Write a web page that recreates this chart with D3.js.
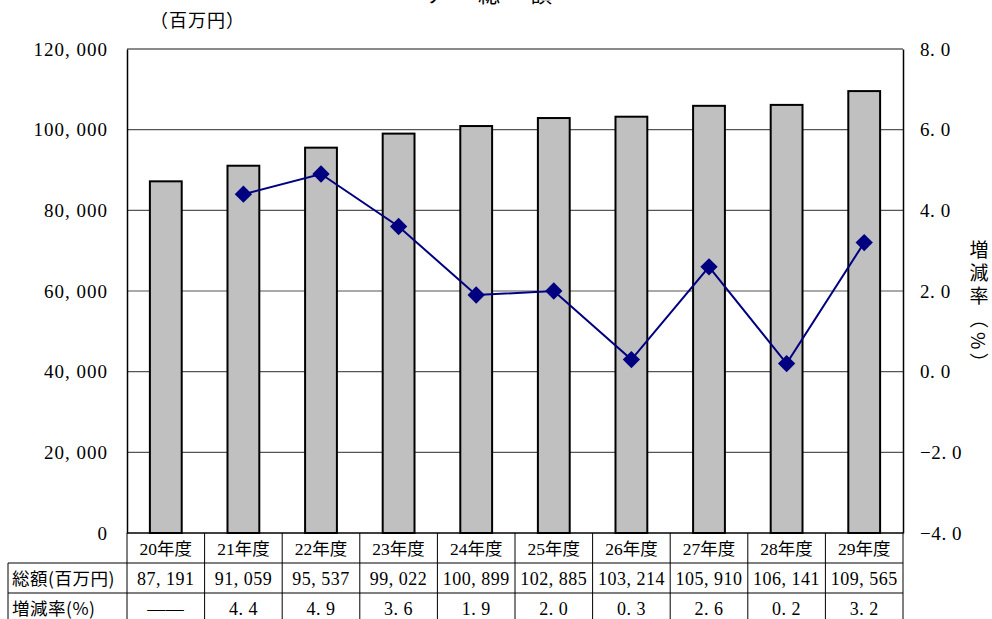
<!DOCTYPE html>
<html>
<head>
<meta charset="utf-8">
<script src="https://cdn.jsdelivr.net/npm/d3@7"></script>
<style>
  body { margin: 0; background: #fff; }
  svg text { font-family: "Liberation Serif", "Noto Sans CJK JP", serif; fill: #000; }
</style>
</head>
<body>
<div id="chart"></div>
<script>
// data
const years = ["20年度", "21年度", "22年度", "23年度", "24年度", "25年度", "26年度", "27年度", "28年度", "29年度"];
const totals = [87191, 91059, 95537, 99022, 100899, 102885, 103214, 105910, 106141, 109565];
const rates = [null, 4.4, 4.9, 3.6, 1.9, 2.0, 0.3, 2.6, 0.2, 3.2];
const leftTicks = [0, 20000, 40000, 60000, 80000, 100000, 120000];
const rightTicks = [-4, -2, 0, 2, 4, 6, 8];
const rowLabels = ["総額(百万円)", "増減率(%)"];

const W = 992, H = 619;
const plot = { left: 127, right: 903, top: 49, bottom: 533 };
const rowH = 30;
const tableLeft = 8;

const svg = d3.select("#chart").append("svg")
  .attr("width", W)
  .attr("height", H);

const x = d3.scaleBand()
  .domain(years)
  .range([plot.left, plot.right])
  .paddingInner(0.59)
  .paddingOuter(0.295);

const xCell = d3.scaleBand()
  .domain(years)
  .range([plot.left, plot.right]);

const yL = d3.scaleLinear().domain([0, 120000]).range([plot.bottom, plot.top]);
const yR = d3.scaleLinear().domain([-4, 8]).range([plot.bottom, plot.top]);

// title (cut off at top, as in the source image)
svg.append("text")
  .attr("x", 426)
  .attr("y", 2)
  .style("font-size", "22px")
  .style("letter-spacing", "4px")
  .text("ア　総　額");

svg.append("text")
  .attr("x", 150)
  .attr("y", 27)
  .style("font-size", "18px")
  .style("letter-spacing", "1px")
  .text("（百万円）");

// gridlines
svg.append("g")
  .selectAll("line")
  .data(leftTicks.filter(d => d > 0))
  .join("line")
  .attr("x1", plot.left)
  .attr("x2", plot.right)
  .attr("y1", d => yL(d))
  .attr("y2", d => yL(d))
  .attr("stroke", d => d === 120000 ? "#8a8a8a" : "#555")
  .attr("stroke-width", d => d === 120000 ? 2 : 1.2);

// left axis
const fmtL = d => d3.format(",")(d).replace(",", ", ");
const axL = svg.append("g")
  .attr("transform", `translate(${plot.left},0)`)
  .call(d3.axisLeft(yL).tickValues(leftTicks).tickSize(0).tickPadding(19).tickFormat(fmtL));
axL.select(".domain").attr("stroke", "#000").attr("stroke-width", 1.5);
axL.selectAll("text")
  .style("font-size", "19px")
  .style("letter-spacing", "1px")
  .style("font-family", "Liberation Serif, serif");

// right axis
const fmtR = d => d3.format(".1f")(d).replace(".", ". ").replace("-", "−");
const axR = svg.append("g")
  .attr("transform", `translate(${plot.right},0)`)
  .call(d3.axisRight(yR).tickValues(rightTicks).tickSize(0).tickPadding(17).tickFormat(fmtR));
axR.select(".domain").attr("stroke", "#000").attr("stroke-width", 1.5);
axR.selectAll("text")
  .style("font-size", "19px")
  .style("letter-spacing", "0.6px")
  .style("font-family", "Liberation Serif, serif");

// right axis title, vertical
svg.append("text")
  .attr("x", 979)
  .attr("y", 240)
  .style("writing-mode", "vertical-rl")
  .style("font-size", "19px")
  .style("font-family", "Noto Sans CJK JP")
  .style("letter-spacing", "4px")
  .text("増減率（%）");

// bars
svg.append("g")
  .selectAll("rect")
  .data(years)
  .join("rect")
  .attr("x", d => x(d))
  .attr("y", (d, i) => yL(totals[i]))
  .attr("width", x.bandwidth())
  .attr("height", (d, i) => yL(0) - yL(totals[i]))
  .attr("fill", "#c0c0c0")
  .attr("stroke", "#000")
  .attr("stroke-width", 2);

// line of rates
const pts = years.map((d, i) => ({ year: d, v: rates[i] })).filter(p => p.v !== null);
const line = d3.line()
  .x(p => x(p.year) + x.bandwidth() / 2)
  .y(p => yR(p.v));

svg.append("path")
  .datum(pts)
  .attr("d", line)
  .attr("fill", "none")
  .attr("stroke", "#000080")
  .attr("stroke-width", 2);

svg.append("g")
  .selectAll("path")
  .data(pts)
  .join("path")
  .attr("d", d3.symbol(d3.symbolSquare, 150))
  .attr("transform", p => `translate(${x(p.year) + x.bandwidth() / 2},${yR(p.v)}) rotate(45)`)
  .attr("fill", "#000080");

// bottom axis line
svg.append("line")
  .attr("x1", plot.left).attr("x2", plot.right)
  .attr("y1", plot.bottom).attr("y2", plot.bottom)
  .attr("stroke", "#000").attr("stroke-width", 1.5);

// data table
const tbl = svg.append("g");
const tBottom = plot.bottom + rowH * 3;

[1, 2, 3].forEach(r => {
  tbl.append("line")
    .attr("x1", tableLeft).attr("x2", plot.right)
    .attr("y1", plot.bottom + rowH * r).attr("y2", plot.bottom + rowH * r)
    .attr("stroke", "#000").attr("stroke-width", 1);
});
tbl.append("line")
  .attr("x1", tableLeft).attr("x2", tableLeft)
  .attr("y1", plot.bottom + rowH).attr("y2", tBottom)
  .attr("stroke", "#000");
tbl.selectAll("line.v")
  .data(years)
  .join("line")
  .attr("class", "v")
  .attr("x1", d => xCell(d)).attr("x2", d => xCell(d))
  .attr("y1", plot.bottom).attr("y2", tBottom)
  .attr("stroke", "#000");
tbl.append("line")
  .attr("x1", plot.right).attr("x2", plot.right)
  .attr("y1", plot.bottom).attr("y2", tBottom)
  .attr("stroke", "#000");

// header row
tbl.selectAll("text.yr")
  .data(years)
  .join("text")
  .attr("class", "yr")
  .attr("x", d => xCell(d) + xCell.bandwidth() / 2)
  .attr("y", plot.bottom + 22)
  .attr("text-anchor", "middle")
  .style("font-size", "17.5px")
  .text(d => d);

// row labels
tbl.selectAll("text.lab")
  .data(rowLabels)
  .join("text")
  .attr("class", "lab")
  .attr("x", tableLeft + 4)
  .attr("y", (d, i) => plot.bottom + rowH * (i + 1) + 22)
  .style("font-size", "17.5px")
  .style("font-family", "Noto Sans CJK JP")
  .style("letter-spacing", "0.5px")
  .text(d => d);

tbl.selectAll("text.tot")
  .data(years)
  .join("text")
  .attr("class", "tot")
  .attr("x", d => xCell(d) + xCell.bandwidth() / 2)
  .attr("y", plot.bottom + rowH + 22)
  .attr("text-anchor", "middle")
  .style("font-size", "18px")
  .style("letter-spacing", "0.5px")
  .text((d, i) => fmtL(totals[i]));

tbl.selectAll("text.rt")
  .data(years)
  .join("text")
  .attr("class", "rt")
  .attr("x", d => xCell(d) + xCell.bandwidth() / 2)
  .attr("y", plot.bottom + rowH * 2 + 22)
  .attr("text-anchor", "middle")
  .style("font-size", "18px")
  .style("letter-spacing", "0.5px")
  .text((d, i) => rates[i] === null ? "――" : d3.format(".1f")(rates[i]).replace(".", ". "));
</script>
</body>
</html>
